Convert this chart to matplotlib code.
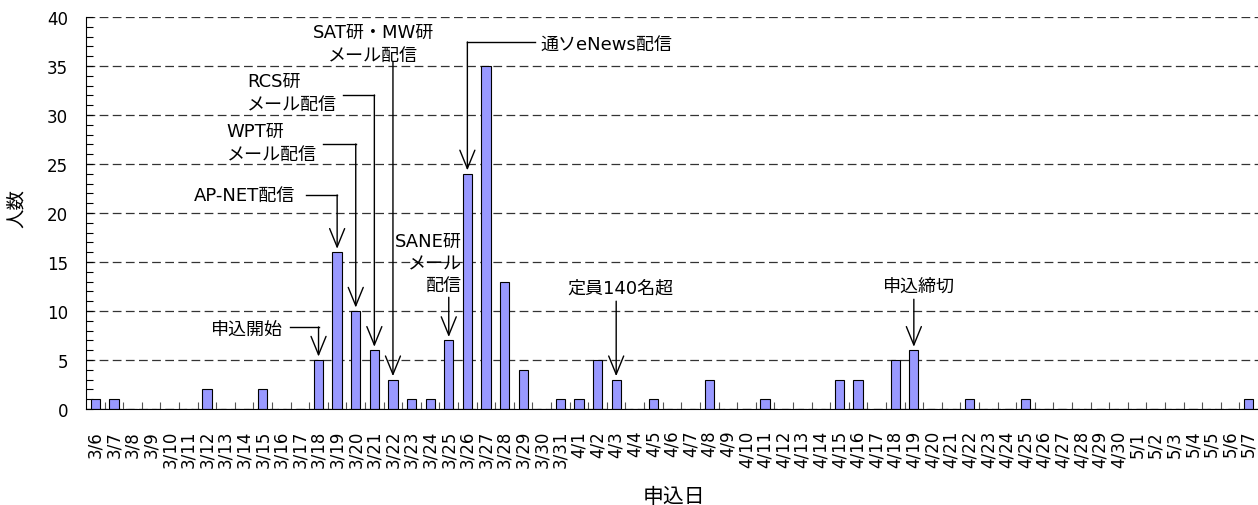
import matplotlib
matplotlib.use('Agg')
import matplotlib.pyplot as plt
from matplotlib.ticker import MultipleLocator, FixedLocator
import numpy as np

plt.rcParams['font.family'] = ['DejaVu Sans', 'Noto Sans CJK JP']

# applications per day, 3/6 .. 5/7
dates = (['3/%d' % d for d in range(6, 32)] +
         ['4/%d' % d for d in range(1, 31)] +
         ['5/%d' % d for d in range(1, 8)])
counts_by_date = {
    '3/6': 1, '3/7': 1, '3/12': 2, '3/15': 2, '3/18': 5, '3/19': 16,
    '3/20': 10, '3/21': 6, '3/22': 3, '3/23': 1, '3/24': 1, '3/25': 7,
    '3/26': 24, '3/27': 35, '3/28': 13, '3/29': 4, '3/31': 1, '4/1': 1,
    '4/2': 5, '4/3': 3, '4/5': 1, '4/8': 3, '4/11': 1, '4/15': 3,
    '4/16': 3, '4/18': 5, '4/19': 6, '4/22': 1, '4/25': 1, '5/7': 1,
}
counts = [counts_by_date.get(d, 0) for d in dates]

# event labels and the day they point at
events = [
    ('申込開始', '3/18'),
    ('AP-NET配信', '3/19'),
    ('WPT研\nメール配信', '3/20'),
    ('RCS研\nメール配信', '3/21'),
    ('SAT研・MW研\nメール配信', '3/22'),
    ('SANE研\nメール\n配信', '3/25'),
    ('通ソeNews配信', '3/26'),
    ('定員140名超', '4/3'),
    ('申込締切', '4/19'),
]

fig = plt.figure(figsize=(12.58, 5.06), dpi=100)
ax = fig.add_axes([86 / 1258, 1 - 410 / 506, 1 - 86 / 1258, (410 - 18) / 506])

x = np.arange(len(dates))
ax.bar(x, counts, width=0.5, color='#9999FF', edgecolor='black', linewidth=0.8, zorder=3)

ax.set_xlim(-0.5, len(dates) - 0.5)
ax.set_ylim(0, 40)

ax.yaxis.set_major_locator(MultipleLocator(5))
ax.yaxis.set_minor_locator(MultipleLocator(1))
ax.tick_params(axis='y', which='both', direction='in', length=5, width=0.8,
               labelsize=12, pad=13)
ax.set_xticks(x)
ax.set_xticklabels(dates, rotation=90, fontsize=12)
ax.xaxis.set_minor_locator(FixedLocator(x[:-1] + 0.5))
ax.tick_params(axis='x', which='major', length=0, pad=15)
ax.tick_params(axis='x', which='minor', direction='in', length=5, width=0.8, color='#555555')

ax.grid(axis='y', which='major', color='#333333', linestyle=(0, (7, 3.5)), linewidth=0.9, zorder=1)
ax.set_axisbelow(True)
for s in ['top', 'right']:
    ax.spines[s].set_visible(False)
ax.spines['left'].set_zorder(4)
ax.spines['bottom'].set_zorder(4)

ax.set_ylabel('人数', fontsize=14)
ax.yaxis.set_label_coords(-0.051, 0.515)
ax.set_xlabel('申込日', fontsize=15)
ax.xaxis.set_label_coords(0.502, -0.196)

# annotation layout: text pos, alignment, elbow level (None = straight down)
layout = {
    '3/18': dict(tx=10.1, ty=8.2, ha='right', line=8.37, start=10.45),
    '3/19': dict(tx=10.75, ty=21.8, ha='right', line=21.84, start=11.3),
    '3/20': dict(tx=7.05, ty=27.2, ha='left', line=27.04, start=12.25),
    '3/21': dict(tx=8.15, ty=32.3, ha='left', line=32.04, start=13.3),
    '3/22': dict(tx=14.95, ty=37.3, ha='center', line=None, start=35.4),
    '3/25': dict(tx=19.7, ty=14.9, ha='right', line=None, start=11.4),
    '3/26': dict(tx=23.95, ty=37.25, ha='left', line=37.45, start=23.65),
    '4/3': dict(tx=28.2, ty=12.35, ha='center', line=None, start=11.0),
    '4/19': dict(tx=44.3, ty=12.55, ha='center', line=None, start=11.2),
}
arrow = dict(arrowstyle='->,head_length=1.1,head_width=0.45', mutation_scale=12,
             color='black', lw=1.0, shrinkA=0, shrinkB=0)
for label, d in events:
    i = dates.index(d)
    v = counts[i]
    L = layout[d]
    ax.text(L['tx'], L['ty'], label, ha=L['ha'], va='center', fontsize=13,
            linespacing=1.3, multialignment=L['ha'], zorder=5)
    if L['line'] is None:
        top = L['start']
    else:
        ax.plot([L['start'], i], [L['line'], L['line']], color='black', lw=1.0, zorder=5)
        top = L['line']
    ax.annotate('', xy=(i, v + 0.35), xytext=(i, top), arrowprops=arrow, zorder=5)

fig.savefig('out.png', dpi=100)
